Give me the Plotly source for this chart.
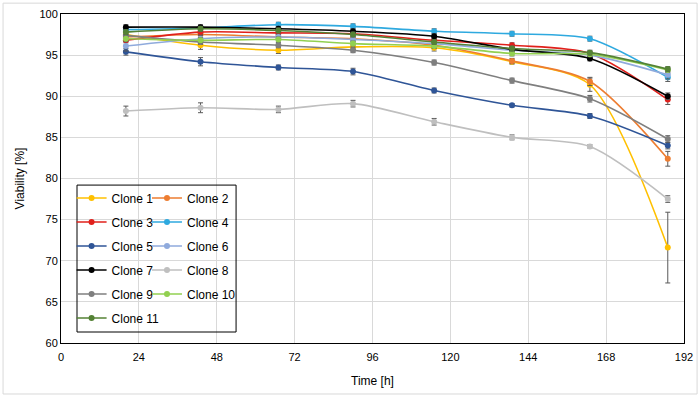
import plotly.graph_objects as go

time_h = [20, 43, 67, 90, 115, 139, 163, 187]

clone_names = ["Clone 1", "Clone 2", "Clone 3", "Clone 4", "Clone 5", "Clone 6",
               "Clone 7", "Clone 8", "Clone 9", "Clone 10", "Clone 11"]

clone1 = [97.5, 96.2, 95.6, 96.0, 95.9, 94.2, 91.4, 71.6]
clone2 = [97.2, 97.5, 97.2, 97.0, 96.2, 94.3, 91.8, 82.4]
clone3 = [96.8, 97.8, 97.7, 97.6, 96.8, 96.2, 95.2, 89.6]
clone4 = [98.1, 98.3, 98.7, 98.5, 97.9, 97.6, 97.0, 92.3]
clone5 = [95.4, 94.2, 93.5, 93.0, 90.7, 88.9, 87.6, 84.0]
clone6 = [96.1, 97.0, 97.2, 96.9, 96.4, 95.6, 95.0, 92.6]
clone7 = [98.4, 98.4, 98.2, 97.9, 97.3, 95.7, 94.6, 90.0]
clone8 = [88.2, 88.6, 88.4, 89.1, 86.9, 85.0, 83.9, 77.5]
clone9 = [97.4, 96.6, 96.2, 95.6, 94.1, 91.9, 89.7, 84.8]
clone10 = [97.0, 96.8, 96.9, 96.4, 96.1, 95.2, 95.1, 93.2]
clone11 = [97.8, 98.2, 98.0, 97.5, 96.6, 95.8, 95.3, 93.3]

err1 = [0.4, 0.5, 0.4, 0.3, 0.4, 0.3, 0.8, 4.3]
err2 = [0.3, 0.3, 0.3, 0.3, 0.3, 0.3, 0.5, 0.9]
err3 = [0.3, 0.3, 0.3, 0.3, 0.3, 0.3, 0.3, 0.6]
err4 = [0.3, 0.3, 0.3, 0.3, 0.3, 0.3, 0.3, 0.5]
err5 = [0.4, 0.5, 0.3, 0.4, 0.3, 0.2, 0.3, 0.4]
err6 = [0.6, 0.4, 0.3, 0.3, 0.3, 0.3, 0.3, 0.5]
err7 = [0.3, 0.3, 0.3, 0.3, 0.3, 0.3, 0.3, 0.4]
err8 = [0.6, 0.6, 0.4, 0.4, 0.4, 0.3, 0.2, 0.4]
err9 = [0.4, 0.3, 0.3, 0.3, 0.3, 0.3, 0.4, 0.4]
err10 = [0.3, 0.3, 0.3, 0.3, 0.3, 0.3, 0.3, 0.3]
err11 = [0.3, 0.3, 0.3, 0.3, 0.3, 0.3, 0.3, 0.3]

values = [clone1, clone2, clone3, clone4, clone5, clone6, clone7, clone8, clone9, clone10, clone11]
errors = [err1, err2, err3, err4, err5, err6, err7, err8, err9, err10, err11]
colors = ["#FFC000", "#ED7D31", "#E0201B", "#2EA9DF", "#2F5597", "#8FAADC",
          "#000000", "#BFBFBF", "#7F7F7F", "#92D050", "#548235"]

x_ticks = [0, 24, 48, 72, 96, 120, 144, 168, 192]
y_ticks = [60, 65, 70, 75, 80, 85, 90, 95, 100]

FONT = "Liberation Sans, Arial"

fig = go.Figure()
for i, (name, vals, errs, col) in enumerate(zip(clone_names, values, errors, colors)):
    fig.add_trace(go.Scatter(
        x=time_h, y=vals, name=name, mode="lines+markers",
        line=dict(color=col, width=1.6, shape="spline", smoothing=0.8),
        marker=dict(color=col, size=6, symbol="circle"),
        error_y=dict(type="data", array=errs, visible=True, color="#595959",
                     thickness=1, width=2.5),
        legend="legend" if i % 2 == 0 else "legend2",
        legendgroup=name,
    ))

legend_common = dict(
    bgcolor="rgba(255,255,255,0)", borderwidth=0,
    font=dict(family=FONT, size=12, color="#000000"),
    xanchor="left", yanchor="top", tracegroupgap=5, itemwidth=30,
)

fig.update_layout(
    width=700, height=398,
    margin=dict(l=61, r=16, t=14, b=55, autoexpand=False),
    paper_bgcolor="white", plot_bgcolor="white",
    font=dict(family=FONT, size=11, color="#000000"),
    xaxis=dict(range=[0, 192], tickvals=x_ticks, showgrid=True, gridcolor="#D9D9D9",
               gridwidth=1, showline=True, linecolor="#000000", linewidth=1, mirror=True,
               ticks="outside", ticklen=4, tickcolor="rgba(0,0,0,0)", zeroline=False,
               tickfont=dict(size=11), automargin=False,
               title=dict(text="Time [h]", font=dict(size=12), standoff=14)),
    yaxis=dict(range=[60, 100], tickvals=y_ticks, showgrid=True, gridcolor="#D9D9D9",
               gridwidth=1, showline=True, linecolor="#000000", linewidth=1, mirror=True,
               ticks="", zeroline=False, tickfont=dict(size=11), automargin=False,
               title=dict(text="Viability [%]", font=dict(size=12), standoff=12)),
    legend=dict(x=0.017, y=0.485, **legend_common),
    legend2=dict(x=0.138, y=0.485, **legend_common),
    showlegend=True,
)

# legend box
fig.add_shape(type="rect", xref="paper", yref="paper",
              x0=0.0257, x1=0.281, y0=0.0334, y1=0.480,
              line=dict(color="#000000", width=1), fillcolor="rgba(0,0,0,0)")
# outer chart border
fig.add_shape(type="rect", xref="paper", yref="paper",
              x0=-0.093, x1=1.021, y0=-0.155, y1=1.033,
              line=dict(color="#D9D9D9", width=1), fillcolor="rgba(0,0,0,0)")

fig.write_html("out.html", config={"displayModeBar": False},
               post_script="document.body.style.margin='0px';")
